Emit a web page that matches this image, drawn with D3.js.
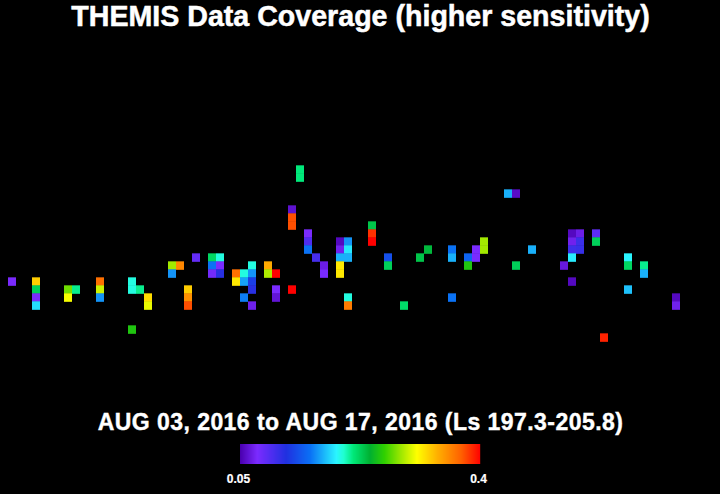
<!DOCTYPE html>
<html>
<head>
<meta charset="utf-8">
<script src="https://cdn.jsdelivr.net/npm/d3@7"></script>
<style>
html,body{margin:0;padding:0;background:#000;overflow:hidden}
svg{display:block}
text{font-family:"Liberation Sans",Arial,sans-serif;font-weight:bold;fill:#fff}
</style>
</head>
<body>
<script>
const titleText = "THEMIS Data Coverage (higher sensitivity)";
const subtitleText = "AUG 03, 2016 to AUG 17, 2016 (Ls 197.3-205.8)";
const legendTicks = [0.05, 0.4];
const legendLabels = ["0.05", "0.4"];
const colorPositions = [0,.07,.19,.29,.4,.43,.47,.54,.6,.67,.735,.82,.92,1];
const colorStops = ["#4a00b0","#7b2bff","#2030e0","#0a70f5","#2af5ff","#20ffd0","#00e878","#00b030","#30d000","#a0e800","#ffff00","#ffb000","#ff6000","#ff0000"];
const cellCol = [1,4,4,4,4,8,8,9,12,12,12,16,16,16,17,18,18,21,21,22,23,23,23,24,26,26,26,27,27,27,29,29,
30,30,30,31,31,31,31,31,33,33,34,34,34,36,36,36,36,37,37,38,38,38,39,40,40,42,42,42,42,42,43,43,43,43,43,46,46,46,48,48,50,52,53,56,56,56,58,58,59,59,
60,60,63,64,64,66,70,71,71,71,71,71,72,72,72,74,74,75,78,78,78,80,80,84,84];
const cellRow = [34,34,35,36,37,35,36,35,34,35,36,34,35,40,35,36,37,32,33,32,35,36,37,31,31,32,33,31,32,33,33,34,
33,34,36,32,33,34,35,37,32,33,33,35,36,35,25,26,27,20,21,28,29,30,31,32,33,29,30,31,32,33,29,30,31,36,37,27,28,29,31,32,37,31,30,30,31,36,31,32,30,31,
29,30,23,23,32,30,32,28,29,30,31,34,28,29,30,28,29,41,31,32,35,32,33,36,37];
const cellValue = [.074,.326,.225,.075,.183,.274,.305,.211,.365,.295,.162,.197,.197,.253,.211,.320,.302,.285,.162,.355,.326,.351,.377,.085,.222,.152,.078,.197,.075,.113,.365,.316,
.197,.166,.155,.197,.162,.124,.113,.068,.340,.288,.400,.075,.062,.400,.060,.377,.377,.214,.214,.075,.095,.152,.099,.066,.075,.055,.069,.170,.316,.316,.162,.186,.170,.197,.360,.230,.386,.400,.134,.225,.220,.230,.235,.152,.170,.152,.145,.253,.075,.075,
.285,.285,.170,.057,.225,.170,.064,.055,.069,.103,.187,.055,.067,.104,.106,.089,.225,.390,.190,.222,.175,.211,.170,.055,.069];

const W = 720, H = 494;
const svg = d3.select("body").append("svg").attr("width", W).attr("height", H);
svg.append("rect").attr("width", W).attr("height", H).attr("fill", "#000");

const x = d3.scaleLinear().domain([0, 90]).range([0, 720]);
const y = d3.scaleLinear().domain([0, 60]).range([5.33, 485.33]);
const valueToT = d3.scaleLinear().domain(legendTicks).range([0, 1]);
const tColor = d3.scaleLinear().domain(colorPositions).range(colorStops).interpolate(d3.interpolateRgb);
const color = v => tColor(valueToT(v));

svg.append("g").selectAll("rect").data(d3.range(cellCol.length)).join("rect")
  .attr("x", i => x(cellCol[i]))
  .attr("y", i => y(cellRow[i]))
  .attr("width", x(1) - x(0))
  .attr("height", (y(1) - y(0)) + 0.5)
  .attr("fill", i => color(cellValue[i]));

svg.append("text").attr("x", 360.5).attr("y", 25.5).attr("text-anchor", "middle")
  .style("font-size", "28.6px").style("stroke", "#fff").style("stroke-width", 0.5).text(titleText);
svg.append("text").attr("x", 360.5).attr("y", 429.5).attr("text-anchor", "middle")
  .style("font-size", "23px").style("letter-spacing", "0.45px").style("stroke", "#fff").style("stroke-width", 0.4).text(subtitleText);

const barX = d3.scaleLinear().domain(legendTicks).range([240, 480]);
const barSteps = d3.range(0, 240);
const stepValue = d3.scaleLinear().domain([0, 240]).range(legendTicks);
svg.append("g").selectAll("rect").data(barSteps).join("rect")
  .attr("x", d => barX(stepValue(d)))
  .attr("y", 444)
  .attr("width", 1.2)
  .attr("height", 20)
  .attr("fill", d => color(stepValue(d)));

svg.append("g").selectAll("text").data(legendTicks).join("text")
  .attr("x", d => barX(d) - 1.5)
  .attr("y", 483)
  .attr("text-anchor", "middle")
  .style("font-size", "12px")
  .style("stroke", "#fff").style("stroke-width", 0.2)
  .text((d, i) => legendLabels[i]);
</script>
</body>
</html>
